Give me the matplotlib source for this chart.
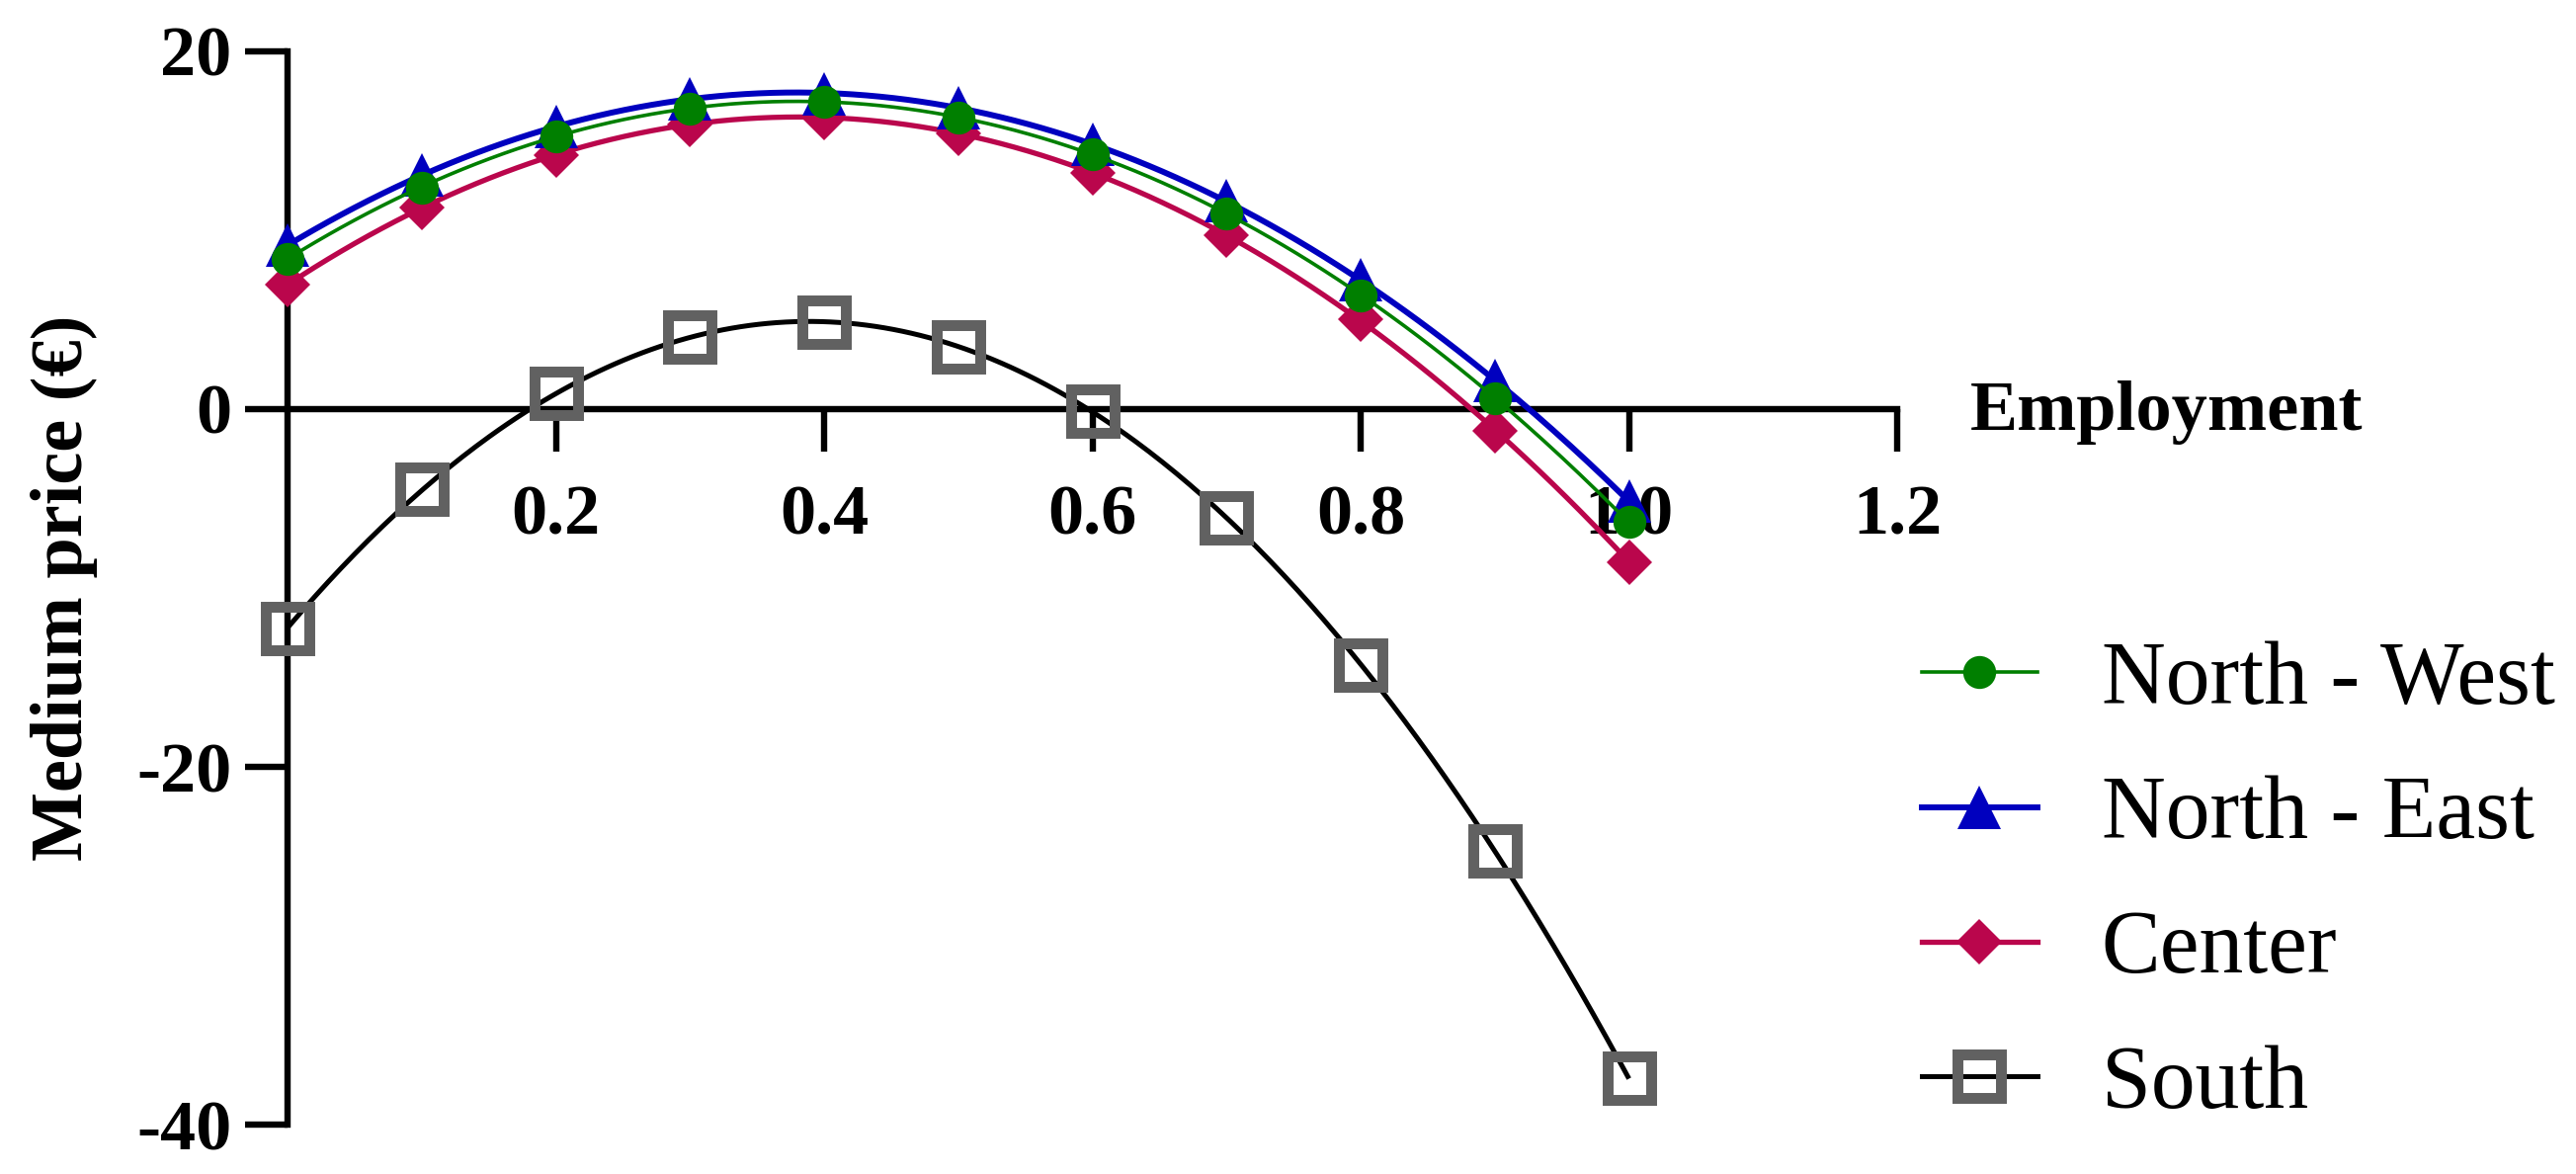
import matplotlib.pyplot as plt
import numpy as np
from matplotlib.lines import Line2D

plt.rcParams['font.family'] = ['Liberation Serif', 'DejaVu Serif']

# data
employment = [0.0, 0.1, 0.2, 0.3, 0.4, 0.5, 0.6, 0.7, 0.8, 0.9, 1.0]
north_west = [8.41, 12.39, 15.23, 16.80, 17.18, 16.30, 14.24, 10.92, 6.33, 0.61, -6.32]
north_east = [9.17, 13.07, 15.76, 17.33, 17.59, 16.85, 14.79, 11.64, 7.20, 1.58, -5.16]
center = [6.96, 11.27, 14.18, 15.87, 16.28, 15.40, 13.17, 9.69, 5.04, -1.20, -8.56]
south = [-12.25, -4.50, 0.88, 4.01, 4.85, 3.48, -0.13, -6.08, -14.30, -24.70, -37.40]

labels = ['North - West', 'North - East', 'Center', 'South']
x_ticks = [0.2, 0.4, 0.6, 0.8, 1.0, 1.2]
y_ticks = [-40, -20, 0, 20]

styles = [
    dict(color='#007F00', lw=2.6, marker='o', ms=24, mfc='#007F00', mec='#007F00', mew=0),
    dict(color='#0000BF', lw=4.3, marker='^', ms=31, mfc='#0000BF', mec='#0000BF', mew=0),
    dict(color='#BA064C', lw=3.8, marker='D', ms=23, mfc='#BA064C', mec='#BA064C', mew=0),
    dict(color='black', lw=3.6, marker='s', ms=31.5, mfc='none', mec='#616161', mew=7.9),
]
series = [north_west, north_east, center, south]

fig = plt.figure(figsize=(26.07, 11.88), dpi=100)
ax = fig.add_axes([0.1117, 0.0418, 0.6248, 0.9147])

# smooth quadratic fit through each series, markers on the data points
xs = np.linspace(min(employment), max(employment), 300)
for i in range(len(series) - 1, -1, -1):
    st = styles[i]
    z = 3 + (len(series) - i)
    coef = np.polyfit(employment, series[i], 2)
    ax.plot(xs, np.polyval(coef, xs), color=st['color'], lw=st['lw'],
            zorder=z, clip_on=False, solid_capstyle='butt')
    ax.plot(employment, series[i], linestyle='none', marker=st['marker'], ms=st['ms'],
            mfc=st['mfc'], mec=st['mec'], mew=st['mew'], zorder=z + 0.5, clip_on=False)

ax.set_xlim(0, 1.2)
ax.set_ylim(-40, 20)
ax.spines['top'].set_visible(False)
ax.spines['right'].set_visible(False)
ax.spines['bottom'].set_position(('data', 0))
for s in ['left', 'bottom']:
    ax.spines[s].set_linewidth(4.6)
    ax.spines[s].set_zorder(2)

ax.set_xticks(x_ticks)
ax.set_xticklabels([f'{v:.1f}' for v in x_ticks])
ax.set_yticks(y_ticks)
ax.set_yticklabels([str(v) for v in y_ticks])
ax.tick_params(axis='both', width=4.6, length=31, direction='out', labelsize=52)
ax.tick_params(axis='x', pad=24)
ax.tick_params(axis='y', pad=10)
for lab in ax.get_xticklabels() + ax.get_yticklabels():
    lab.set_fontweight('bold')
ax.xaxis.set_zorder(1)
ax.yaxis.set_zorder(1)

ax.set_ylabel('Medium price (€)', fontsize=53.5, fontweight='bold')
ax.yaxis.set_label_coords(-0.118, 0.5)

ax.text(1.045, 0.6474, 'Employment', transform=ax.transAxes, ha='left', va='baseline',
        fontsize=52, fontweight='bold')

handles = [Line2D([], [], color=st['color'], lw=st['lw'], marker=st['marker'], ms=st['ms'],
                  mfc=st['mfc'], mec=st['mec'], mew=st['mew']) for st in styles]
fig.legend(handles, labels, loc='center left', bbox_to_anchor=(0.746, 0.2475),
           frameon=False, fontsize=64.5, handlelength=1.31, handletextpad=0.72,
           labelspacing=0.6, borderpad=0, borderaxespad=0)

fig.savefig('out.png', dpi=100)
